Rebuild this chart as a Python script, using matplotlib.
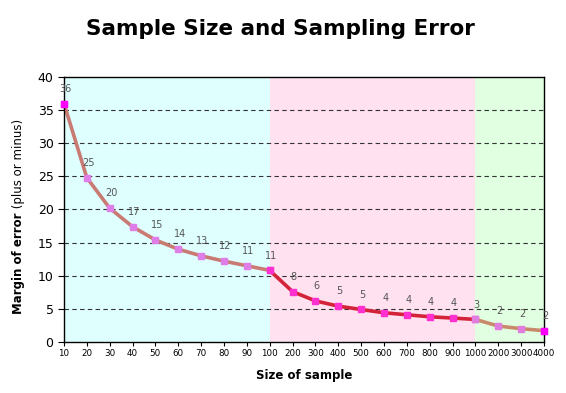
import numpy as np
import matplotlib
matplotlib.use("Agg")
from matplotlib import pyplot as plt

# Datos
tamanos = ["10", "20", "30", "40", "50", "60", "70", "80", "90", "100",
           "200", "300", "400", "500", "600", "700", "800", "900", "1000",
           "2000", "3000", "4000"]
error = [36, 24.8, 20.2, 17.4, 15.4, 14.0, 13.0, 12.2, 11.5, 10.8,
         7.6, 6.2, 5.4, 4.9, 4.4, 4.1, 3.8, 3.6, 3.4,
         2.4, 2.0, 1.7]
etiquetas = ["36", "25", "20", "17", "15", "14", "13", "12", "11", "11",
             "8", "6", "5", "5", "4", "4", "4", "4", "3",
             "2", "2", "2"]
tramos = [(0, 9), (9, 18), (18, 21)]
colores_fondo = ["#dfffff", "#ffe1f0", "#e1ffe1"]
colores_linea = ["#c97a72", "#d42238", "#c98a6c"]
colores_marca = ["#e07ee8", "#ff2fd0", "#e07ee0"]

fig = plt.figure(figsize=(5.66, 3.93), dpi=100)
ax = fig.add_axes([0.113, 0.130, 0.848, 0.674])
x = np.arange(len(tamanos))

# Fondos de color por tramo
for (a, b), c in zip(tramos, colores_fondo):
    ax.axvspan(a, b, color=c, zorder=0, lw=0)

# Rejilla horizontal discontinua
for yv in range(5, 40, 5):
    ax.axhline(yv, color="#333333", lw=0.8, ls=(0, (4, 3)), zorder=1)

# Líneas por tramo
for (a, b), cl, cm in zip(tramos, colores_linea, colores_marca):
    ax.plot(x[a:b + 1], error[a:b + 1], color=cl, lw=2.6, zorder=2,
            marker="s", ms=4.5, mfc=cm, mec=cm, clip_on=False)
ax.plot([0, 21], [error[0], error[21]], ls="none", marker="s", ms=4.5,
        mfc="#ff00ff", mec="#ff00ff", zorder=3, clip_on=False)

# Etiquetas de valor
for i, (v, t) in enumerate(zip(error, etiquetas)):
    ax.annotate(t, (i, v), xytext=(1, 7), textcoords="offset points",
                ha="center", va="bottom", fontsize=7, color="#555555",
                zorder=4)

ax.set_xlim(0, 21)
ax.set_ylim(0, 40)
ax.set_xticks(x)
ax.set_xticklabels(tamanos, fontsize=6.3)
ax.set_yticks(range(0, 45, 5))
ax.tick_params(axis="y", labelsize=9, length=4, width=0.8)
ax.tick_params(axis="x", length=3, width=0.8, pad=2)
for s in ax.spines.values():
    s.set_linewidth(1.0)

fig.text(0.495, 0.925, "Sample Size and Sampling Error", ha="center",
         va="center", fontsize=15.5, fontweight="bold")
ax.set_xlabel("Size of sample", fontsize=8.5, fontweight="bold", labelpad=8)
fig.text(0.032, (393 - 212) / 393, "Margin of error", rotation=90,
         ha="center", va="top", fontsize=8.5, fontweight="bold")
fig.text(0.032, (393 - 212) / 393, " (plus or minus)", rotation=90,
         ha="center", va="bottom", fontsize=8.5)

fig.savefig("out.png", dpi=100)
